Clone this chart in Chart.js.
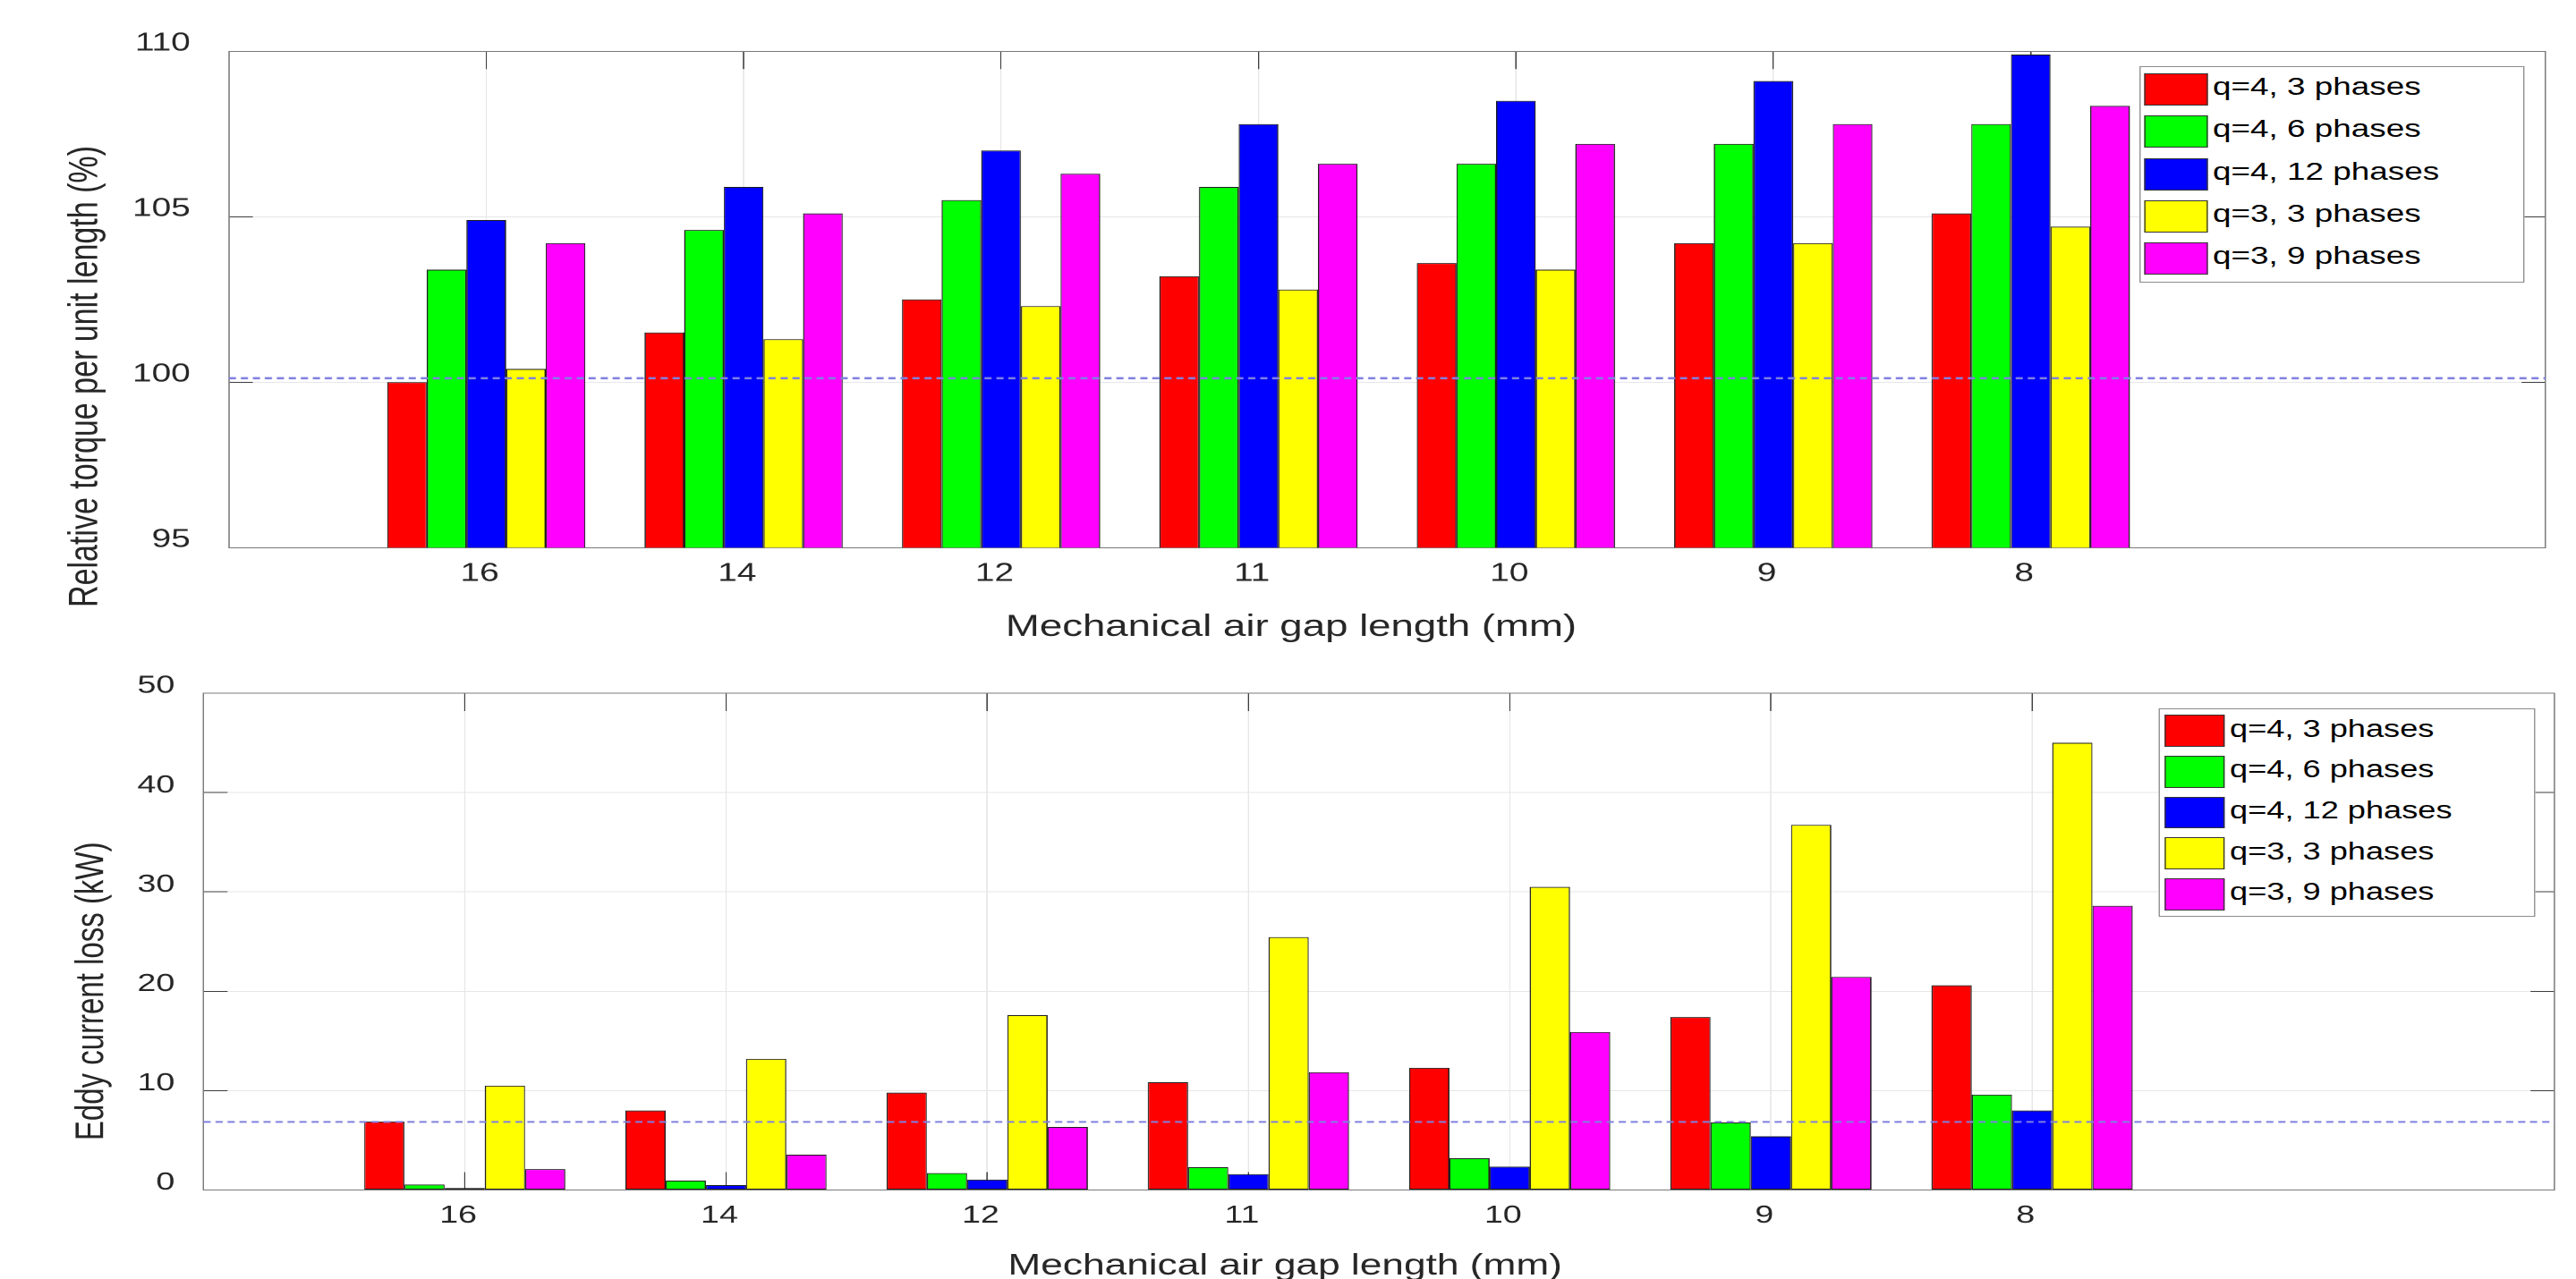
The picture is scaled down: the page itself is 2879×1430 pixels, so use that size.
<!DOCTYPE html>
<html>
<head>
<meta charset="utf-8">
<script src="https://cdn.jsdelivr.net/npm/chart.js@4.4.1/dist/chart.umd.min.js"></script>
<style>
  html, body { margin: 0; padding: 0; background: #fff; overflow: hidden; }
  /* the source figure is stretched sideways, so draw narrow and scale the whole stage */
  #stage { position: absolute; left: 0; top: 0; width: 2148px; height: 1430px; transform: scaleX(1.34032); transform-origin: 0 0; }
  .panel { position: absolute; left: 0; width: 2148px; }
  .legend { position: absolute; background: #fff; border: 1px solid #8c8c8c; box-sizing: border-box; font-family: 'Liberation Sans', Arial, sans-serif; color: #000; }
  .legend .sw { position: absolute; box-sizing: border-box; border: 1px solid #333; }
  .legend .tx { position: absolute; white-space: nowrap; }
</style>
</head>
<body>
<div id="stage">
  <div class="panel" style="top:0;height:735px"><canvas id="torqueChart"></canvas></div>
  <div class="panel" style="top:735px;height:695px"><canvas id="lossChart"></canvas></div>
  <div class="legend" id="torqueLegend"></div>
  <div class="legend" id="lossLegend"></div>
</div>
<script>
const gapLabels = ['16', '14', '12', '11', '10', '9', '8']
const seriesNames = ['q=4, 3 phases', 'q=4, 6 phases', 'q=4, 12 phases', 'q=3, 3 phases', 'q=3, 9 phases']
const seriesColors = ['#ff0000', '#00ff00', '#0000ff', '#ffff00', '#ff00ff']

// relative torque per unit length (%)
const torqueQ4p3 = [100.0, 101.5, 102.5, 103.2, 103.6, 104.2, 105.1]
const torqueQ4p6 = [103.4, 104.6, 105.5, 105.9, 106.6, 107.2, 107.8]
const torqueQ4p12 = [104.9, 105.9, 107.0, 107.8, 108.5, 109.1, 109.9]
const torqueQ3p3 = [100.4, 101.3, 102.3, 102.8, 103.4, 104.2, 104.7]
const torqueQ3p9 = [104.2, 105.1, 106.3, 106.6, 107.2, 107.8, 108.35]
const torqueRef = 100.12
const torqueTicks = [95, 100, 105, 110]

// eddy current loss (kW)
const lossQ4p3 = [6.9, 8.0, 9.8, 10.85, 12.3, 17.4, 20.6]
const lossQ4p6 = [0.55, 0.95, 1.7, 2.3, 3.2, 6.8, 9.6]
const lossQ4p12 = [0.2, 0.5, 1.05, 1.6, 2.35, 5.4, 8.0]
const lossQ3p3 = [10.5, 13.2, 17.6, 25.45, 30.5, 36.75, 45.0]
const lossQ3p9 = [2.1, 3.55, 6.35, 11.85, 15.9, 21.45, 28.6]
const lossRef = 6.85
const lossTicks = [0, 10, 20, 30, 40, 50]

const xTitle = 'Mechanical air gap length (mm)'
const torqueTitle = 'Relative torque per unit length (%)'
const lossTitle = 'Eddy current loss (kW)'

const fontFamily = "'Liberation Sans', Arial, Helvetica, sans-serif"
const textColor = '#262626'
const gridColor = '#e6e6e6'
const tickColor = '#3c3c3c'
const boxColor = '#7a7a7a'
const refColor = '#8080e0'

Chart.defaults.font.family = fontFamily
Chart.defaults.color = textColor

// empty slot before 16 and two after 8, like the source axis
const allLabels = [''].concat(gapLabels, ['', ''])
const isGapTick = (i) => i >= 1 && i <= gapLabels.length

// axis titles sit off-centre in the source, so they are drawn here
const axisTitles = {
  id: 'axisTitles',
  afterDraw(chart, args, o) {
    const ctx = chart.ctx
    ctx.save()
    ctx.fillStyle = textColor
    ctx.font = o.size + 'px ' + fontFamily
    ctx.textAlign = 'center'
    ctx.textBaseline = 'alphabetic'
    ctx.fillText(o.xText, o.xCx, o.xBase)
    ctx.translate(o.yCx, o.yCy)
    ctx.rotate(-Math.PI / 2)
    ctx.textBaseline = 'middle'
    ctx.fillText(o.yText, 0, 0)
    ctx.restore()
  }
}

// fixed box sizes, and no extra room for the end labels
function fixSize(w, h) {
  return (s) => {
    if (w !== null) s.width = w
    if (h !== null) s.height = h
    s.paddingTop = 0
    s.paddingBottom = 0
    s.paddingLeft = 0
    s.paddingRight = 0
  }
}

function barSets(series) {
  return series.map((vals, i) => ({
    label: seriesNames[i],
    data: [null].concat(vals),
    backgroundColor: seriesColors[i],
    borderColor: '#1e1e1e',
    borderWidth: 1,
    borderSkipped: false,
    categoryPercentage: 0.77,
    barPercentage: 1
  }))
}

function refLine(value, width) {
  return {
    type: 'line',
    label: 'ref',
    data: allLabels.map(() => value),
    borderColor: refColor,
    borderWidth: width,
    borderDash: [6, 4],
    pointRadius: 0,
    fill: false,
    order: -1
  }
}

function makeScales(ticks, p) {
  const lo = ticks[0]
  const hi = ticks[ticks.length - 1]
  const step = ticks[1] - ticks[0]
  return {
    x: {
      type: 'category', position: 'bottom', offset: false,
      grid: {
        offset: false, lineWidth: 1, tickLength: -20, tickWidth: 1,
        color: (c) => isGapTick(c.index) ? gridColor : 'rgba(0,0,0,0)',
        tickColor: (c) => isGapTick(c.index) ? tickColor : 'rgba(0,0,0,0)'
      },
      border: { display: true, color: boxColor, width: 1 },
      ticks: { autoSkip: false, maxRotation: 0, padding: 32, labelOffset: -5.5, color: textColor, font: { size: p.tickFont } },
      afterFit: fixSize(null, 60)
    },
    xt: {
      type: 'category', position: 'top', offset: false,
      grid: {
        offset: false, drawOnChartArea: false, tickLength: -20, tickWidth: 1,
        tickColor: (c) => isGapTick(c.index) ? tickColor : 'rgba(0,0,0,0)'
      },
      border: { display: true, color: boxColor, width: 1 },
      ticks: { display: false },
      afterFit: fixSize(null, 0)
    },
    y: {
      type: 'linear', position: 'left', min: lo, max: hi,
      grid: { color: gridColor, lineWidth: 1, tickLength: -20, tickWidth: 1, tickColor: tickColor },
      border: { display: true, color: boxColor, width: 1 },
      ticks: { stepSize: step, padding: p.yPad, labelOffset: p.yLabelOffset, color: textColor, font: { size: p.tickFont } },
      afterFit: fixSize(p.left, null)
    },
    yr: {
      type: 'linear', position: 'right', min: lo, max: hi,
      grid: { drawOnChartArea: false, tickLength: -20, tickWidth: 1, tickColor: tickColor },
      border: { display: true, color: boxColor, width: 1 },
      ticks: { stepSize: step, display: false },
      afterFit: fixSize(0, null)
    }
  }
}

function drawPanel(canvasId, series, ref, refWidth, ticks, p) {
  return new Chart(document.getElementById(canvasId), {
    type: 'bar',
    data: {
      labels: allLabels,
      datasets: barSets(series).concat([refLine(ref, refWidth)])
    },
    options: {
      responsive: true,
      maintainAspectRatio: false,
      devicePixelRatio: 2,
      animation: false,
      layout: { padding: { left: 0, top: p.top, right: p.right, bottom: p.bottom } },
      scales: makeScales(ticks, p),
      plugins: {
        legend: { display: false },
        tooltip: { enabled: false },
        axisTitles: p.titles
      }
    },
    plugins: [axisTitles]
  })
}

const torqueChart = drawPanel('torqueChart',
  [torqueQ4p3, torqueQ4p6, torqueQ4p12, torqueQ3p3, torqueQ3p9], torqueRef, 2.5, torqueTicks,
  {
    top: 57.3, right: 25.4, bottom: 62.7, left: 190.8,
    tickFont: 29, yPad: 52, yLabelOffset: -8.6,
    titles: { size: 34, xText: xTitle, xCx: 1076.6, xBase: 711, yText: torqueTitle, yCx: 71.7, yCy: 421 }
  })

const lossChart = drawPanel('lossChart',
  [lossQ4p3, lossQ4p6, lossQ4p12, lossQ3p3, lossQ3p9], lossRef, 2, lossTicks,
  {
    top: 40, right: 17.9, bottom: 39.5, left: 169.7,
    tickFont: 28, yPad: 44, yLabelOffset: -8,
    titles: { size: 33, xText: xTitle, xCx: 1071.5, xBase: 690, yText: lossTitle, yCx: 76.9, yCy: 373.3 }
  })

function buildLegend(id, b) {
  const el = document.getElementById(id)
  el.style.left = b.left + 'px'
  el.style.top = b.top + 'px'
  el.style.width = b.width + 'px'
  el.style.height = b.height + 'px'
  seriesNames.forEach((name, i) => {
    const y = b.swTop + i * b.pitch
    const sw = document.createElement('div')
    sw.className = 'sw'
    sw.style.left = b.swLeft + 'px'
    sw.style.top = y + 'px'
    sw.style.width = b.swW + 'px'
    sw.style.height = b.swH + 'px'
    sw.style.background = seriesColors[i]
    const tx = document.createElement('div')
    tx.className = 'tx'
    tx.textContent = name
    tx.style.left = b.txLeft + 'px'
    tx.style.top = (y + b.txShift) + 'px'
    tx.style.height = b.swH + 'px'
    tx.style.lineHeight = b.swH + 'px'
    tx.style.fontSize = b.font + 'px'
    el.appendChild(sw)
    el.appendChild(tx)
  })
}

buildLegend('torqueLegend', { left: 1783.9, top: 74, width: 321.6, height: 242, swLeft: 3.5, swTop: 7, swW: 52.2, swH: 36, pitch: 47.3, txLeft: 60.2, txShift: -3, font: 27.5 })
buildLegend('lossLegend', { left: 1799.6, top: 792, width: 314.1, height: 233, swLeft: 4.2, swTop: 6.3, swW: 50.7, swH: 35.7, pitch: 45.7, txLeft: 58.7, txShift: -1.7, font: 27 })
</script>
</body>
</html>
